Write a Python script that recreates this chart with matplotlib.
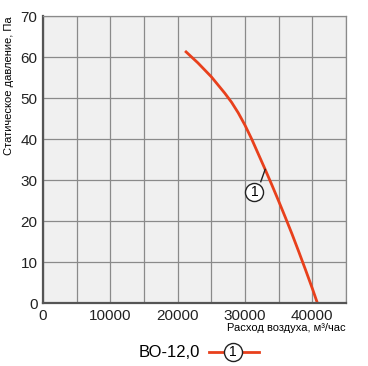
import matplotlib
matplotlib.use('Agg')
import matplotlib.pyplot as plt
import numpy as np

plt.rcParams['font.family'] = ['Liberation Sans', 'DejaVu Sans']

# curve
flow = [21100, 23000, 25000, 27000, 28000, 29000, 30000, 31000, 32000, 33000,
        34000, 35000, 36000, 37000, 38000, 39000, 40000, 40760]
pressure = [61.5, 58.6, 55.2, 51.2, 49.0, 46.4, 43.4, 40.0, 36.3, 32.6,
            28.8, 24.9, 20.9, 16.8, 12.5, 8.1, 3.6, 0.0]

x_ticks = [0, 10000, 20000, 30000, 40000]
y_ticks = [0, 10, 20, 30, 40, 50, 60, 70]

red = '#e8401c'

fig = plt.figure(figsize=(3.68, 3.66), dpi=100)
ax = fig.add_axes([0.117, 0.172, 0.823, 0.784])
ax.set_facecolor('#f0f0f0')

ax.set_xlim(0, 45000)
ax.set_ylim(0, 70)
ax.set_xticks(x_ticks)
ax.set_xticks(np.arange(0, 45001, 5000), minor=True)
ax.set_yticks(y_ticks)
ax.grid(True, which='both', color='#8a8a8a', lw=0.9)
ax.set_axisbelow(True)
ax.tick_params(which='both', length=0, labelsize=11, pad=4, colors='#222222')

for s in ['top', 'right']:
    ax.spines[s].set_color('#8a8a8a')
    ax.spines[s].set_linewidth(0.9)
for s in ['left', 'bottom']:
    ax.spines[s].set_color('#555555')
    ax.spines[s].set_linewidth(1.6)

ax.plot(flow, pressure, color=red, lw=2, solid_joinstyle='round',
        solid_capstyle='butt', clip_on=False)

# circled label with leader line
ax.plot([32350, 33000], [29.6, 32.6], color='#222222', lw=1)
ax.plot(31400, 27, 'o', ms=13, mfc='white', mec='#222222', mew=1)
ax.text(31400, 27, '1', ha='center', va='center', fontsize=10)

ax.set_ylabel('Статическое давление, Па', fontsize=8, labelpad=5, loc='top')
ax.text(1.0, -0.07, 'Расход воздуха, м³/час', transform=ax.transAxes,
        ha='right', va='top', fontsize=8)

# legend under the chart
fig.text(0.378, 0.038, 'ВО-12,0', ha='left', va='center', fontsize=12)
fig.add_artist(plt.Line2D([0.568, 0.703], [0.038, 0.038], color=red, lw=2))
fig.add_artist(plt.Line2D([0.632], [0.038], marker='o', ms=13, mfc='white',
                          mec='#222222', mew=1))
fig.text(0.632, 0.038, '1', ha='center', va='center', fontsize=10)

fig.savefig('out.png', dpi=100)
